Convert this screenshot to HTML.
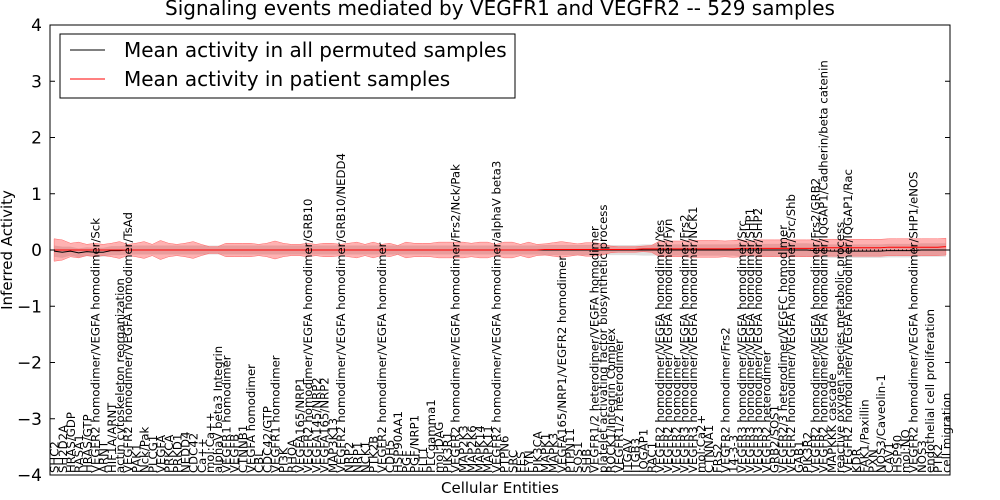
<!DOCTYPE html>
<html><head><meta charset="utf-8"><style>
body{margin:0;background:#fff;}
svg{display:block;font-family:"DejaVu Sans","Liberation Sans",sans-serif;}
</style></head><body>
<svg id="chart" width="1000" height="500" viewBox="0 0 1000 500">
<rect x="0" y="0" width="1000" height="500" fill="#fff"/>
<text x="500" y="15" font-size="20" text-anchor="middle">Signaling events mediated by VEGFR1 and VEGFR2 -- 529 samples</text>
<g id="bands"></g><g id="lines"></g><g id="labels"></g><g id="axes"></g>
<text x="500" y="493" font-size="15" text-anchor="middle">Cellular Entities</text>
<text transform="translate(12,250) rotate(-90)" font-size="15" text-anchor="middle">Inferred Activity</text>
<g>
<rect x="60" y="34" width="455" height="64" fill="#fff" stroke="#000" stroke-width="1"/>
<line x1="70" y1="50" x2="105" y2="50" stroke="#000" stroke-width="1"/>
<text x="124" y="57" font-size="20">Mean activity in all permuted samples</text>
<line x1="70" y1="79" x2="105" y2="79" stroke="#f00" stroke-width="1"/>
<text x="124" y="86" font-size="20">Mean activity in patient samples</text>
</g>
</svg>
<script>
const categories=["SHC2","SH2D2A","HRAS/GDP","RASA1","HRAS/GTP","VEGFR2 homodimer/VEGFA homodimer/Sck","ARNT","HIF1A/ARNT","actin cytoskeleton reorganization","VEGFR2 homodimer/VEGFA homodimer/TsAd",
"PAK1","Nck/Pak","PLCG1","VEGFA","PRKCA","PRKD1","NEDD4","CDC42","Ca++","mol:Ca++",
"alphaV beta3 Integrin","VEGFR1 homodimer","VEGFB","CTNNB1","VEGFA homodimer","CBL","CDC42/GTP","VEGFR1 homodimer","PI3K","RHOA",
"VEGFA165/NRP1","VEGFR2 homodimer/VEGFA homodimer/GRB10","VEGFA145/NRP2","VEGFA165/NRP2","MAP3K13","VEGFR2 homodimer/VEGFA homodimer/GRB10/NEDD4","NRP2","NRP1","NCK1","PTK2B",
"VEGFR2 homodimer/VEGFA homodimer","CDH5","HSP90AA1","PGF","PGF/NRP1","FLT1","PLCgamma1","mol:DAG","PIK3R1","VEGFR2 homodimer/VEGFA homodimer/Frs2/Nck/Pak",
"MAP2K3","MAP2K6","MAPK14","MAPK11","VEGFR2 homodimer/VEGFA homodimer/alphaV beta3","PTPN6","SRC","FES","FYN","PIK3CA",
"MAPK1","MAPK3","VEGFA165/NRP1/VEGFR2 homodimer","PTPN11","SOS1","SHB","VEGFR1/2 heterodimer/VEGFA homodimer","platelet activating factor biosynthetic process","ROCK1/Integrin Complex","VEGFR1/2 heterodimer",
"ITGAV","ITGB3","IQGAP1","RAC1","VEGFR2 homodimer/VEGFA homodimer/Yes","VEGFR2 homodimer/VEGFA homodimer/Fyn","VEGFR2 homodimer","VEGFR3 homodimer/VEGFA homodimer/Frs2","VEGFR3 homodimer/VEGFA homodimer/NCK1","mol:Ca2+",
"CTNNA1","FRS2","VEGFR2 homodimer/Frs2","14-3-3","VEGFR3 homodimer/VEGFA homodimer/Src","VEGFR3 homodimer/VEGFA homodimer/SHP1","VEGFR3 homodimer/VEGFA homodimer/SHP2","VEGFR2 heterodimer","GRB2/SOS1","VEGFR2/3 heterodimer/VEGFC homodimer",
"VEGFR2 homodimer/VEGFA homodimer/Src/Shb","GAB1","PIK3R2","VEGFR2 homodimer/VEGFA homodimer/Frs2/GRB2","VEGFR2 homodimer/VEGFA homodimer/IQGAP1/Cadherin/beta catenin","MAPKKK cascade","reactive oxygen species metabolic process","VEGFR2 homodimer/VEGFA homodimer/IQGAP1/Rac","KDR","FAK1/Paxillin",
"PXN","NOS3/Caveolin-1","CAV1","HSP90","mol:NO","VEGFR2 homodimer/VEGFA homodimer/SHP1/eNOS","NOS3","endothelial cell proliferation","PTK2","cell migration"];
const patientMean=[0,0,0,0,0,0,0,0,0,0, 0,0,0,0,0,0,0,0,0,0, 0,0,0,0,0,0,0,0,0,0, 0,0,0,0,0,0,0,0,0,0, 0,0,0,0,0,0,0,0,0,0, 0,0,0,0,0,0,0,0,0,0, 0.01,0.01,0.01,0.01,0.01,0.01,0.01,0.01,0.01,0.01, 0.01,0.01,0.02,0.02,0.02,0.02,0.02,0.02,0.02,0.02, 0.02,0.02,0.02,0.02,0.03,0.03,0.03,0.03,0.03,0.03, 0.03,0.03,0.03,0.03,0.04,0.04,0.04,0.04,0.04,0.04, 0.04,0.04,0.05,0.05,0.05,0.05,0.05,0.05,0.05,0.06];
const patientSpread=[0.2,0.18,0.12,0.14,0.1,0.12,0.1,0.12,0.15,0.1, 0.12,0.15,0.1,0.17,0.12,0.1,0.12,0.15,0.1,0.06, 0.06,0.12,0.12,0.12,0.12,0.1,0.12,0.16,0.12,0.1, 0.1,0.12,0.1,0.12,0.12,0.1,0.12,0.14,0.1,0.14, 0.1,0.12,0.08,0.14,0.12,0.12,0.12,0.14,0.14,0.14, 0.14,0.12,0.14,0.14,0.1,0.14,0.14,0.1,0.14,0.1, 0.1,0.12,0.14,0.12,0.1,0.12,0.12,0.1,0.06,0.05, 0.05,0.05,0.05,0.06,0.14,0.14,0.14,0.14,0.15,0.15, 0.15,0.15,0.14,0.15,0.15,0.12,0.15,0.15,0.15,0.15, 0.15,0.15,0.15,0.15,0.15,0.15,0.15,0.15,0.15,0.15, 0.15,0.15,0.15,0.15,0.15,0.15,0.15,0.15,0.15,0.15];
const permutedMean=[-0.02,-0.04,-0.02,-0.05,-0.03,-0.04,-0.04,-0.01,-0.01,0, 0,0,0,0,0,0,0,0,0,0, 0,0,0,0,0,0,0,0,0,0, 0,0,0,0,0,0,0,0,0,0, 0,0,0,0,0,0,0,0,0,0, 0,0,0,0,0,0,0,0,0,0, 0,0,0,0,0,0,0,0,0,0, 0,0,0,0,0,0,0,0,0,0, 0,0,0,0,0,0,0,0,0,0, 0,0,0,-0.01,-0.01,-0.02,-0.02,-0.02,-0.02,-0.02, -0.02,-0.02,-0.01,-0.01,-0.01,-0.01,0,0,0,0];
const permutedSpread=[0.1,0.1,0.08,0.08,0.08,0.08,0.08,0.08,0.08,0.08, 0.08,0.08,0.08,0.08,0.08,0.08,0.08,0.08,0.08,0.08, 0.08,0.08,0.08,0.08,0.08,0.08,0.08,0.08,0.08,0.08, 0.08,0.08,0.08,0.08,0.08,0.08,0.08,0.08,0.08,0.08, 0.08,0.08,0.08,0.08,0.08,0.08,0.08,0.08,0.08,0.08, 0.08,0.08,0.08,0.08,0.08,0.08,0.08,0.08,0.08,0.08, 0.09,0.09,0.09,0.09,0.09,0.09,0.09,0.09,0.09,0.09, 0.09,0.09,0.1,0.1,0.1,0.1,0.1,0.1,0.1,0.1, 0.1,0.1,0.1,0.1,0.11,0.11,0.11,0.11,0.11,0.11, 0.12,0.12,0.12,0.12,0.12,0.12,0.12,0.12,0.12,0.12, 0.12,0.12,0.12,0.12,0.12,0.12,0.12,0.12,0.12,0.12];
const yTicks=[-4,-3,-2,-1,0,1,2,3,4];

const L=50,R=950,T=25,B=475,NS="http://www.w3.org/2000/svg";
const n=categories.length, step=(R-L)/n;
const xs=i=>L+(i+0.5)*step;
const ys=v=>T+(4-v)*(B-T)/8;
function el(tag,attrs,parent){const e=document.createElementNS(NS,tag);for(const k in attrs)e.setAttribute(k,attrs[k]);parent.appendChild(e);return e;}
const bands=document.getElementById('bands'),lines=document.getElementById('lines'),labels=document.getElementById('labels'),axes=document.getElementById('axes');
function bandPath(m,s){let up=[],lo=[];for(let i=0;i<n;i++){up.push(xs(i)+','+ys(m[i]+s[i]));lo.unshift(xs(i)+','+ys(m[i]-s[i]));}return 'M'+up.join('L')+'L'+lo.join('L')+'Z';}
const gb=el('path',{d:bandPath(permutedMean,permutedSpread),fill:'#bbb','fill-opacity':0.45,stroke:'none'},bands);


const rb=el('path',{d:bandPath(patientMean,patientSpread),fill:'#f00','fill-opacity':0.3,stroke:'#f66','stroke-width':0.5},bands);


const z=el('line',{x1:L,x2:R,y1:ys(0),y2:ys(0),stroke:'#000','stroke-dasharray':'1,3','stroke-width':1},lines);


function linePath(m){return 'M'+m.map((v,i)=>xs(i)+','+ys(v)).join('L');}
const bl=el('path',{d:linePath(permutedMean),fill:'none',stroke:'#000','stroke-width':1},lines);


const rl=el('path',{d:linePath(patientMean),fill:'none',stroke:'#f00','stroke-width':1},lines);


categories.forEach((c,i)=>{
 const t=el('text',{transform:`translate(${xs(i)+4.5},${B-2}) rotate(-90)`,'font-size':11.7},labels);
 t.textContent=c;
 
 
});
const fr=el('rect',{x:L,y:T,width:R-L,height:B-T,fill:'none',stroke:'#000','stroke-width':1},axes);


yTicks.forEach(v=>{
 const y=ys(v);
 const a=el('line',{x1:L,x2:L+5,y1:y,y2:y,stroke:'#000'},axes);
 
 
 const b=el('line',{x1:R-5,x2:R,y1:y,y2:y,stroke:'#000'},axes);
 
 
 const t=el('text',{x:L-8,y:y+6,'font-size':17,'text-anchor':'end'},axes);
 t.textContent=v<0?'\u2212'+(-v):String(v);
 
 
});
</script>
</body></html>
